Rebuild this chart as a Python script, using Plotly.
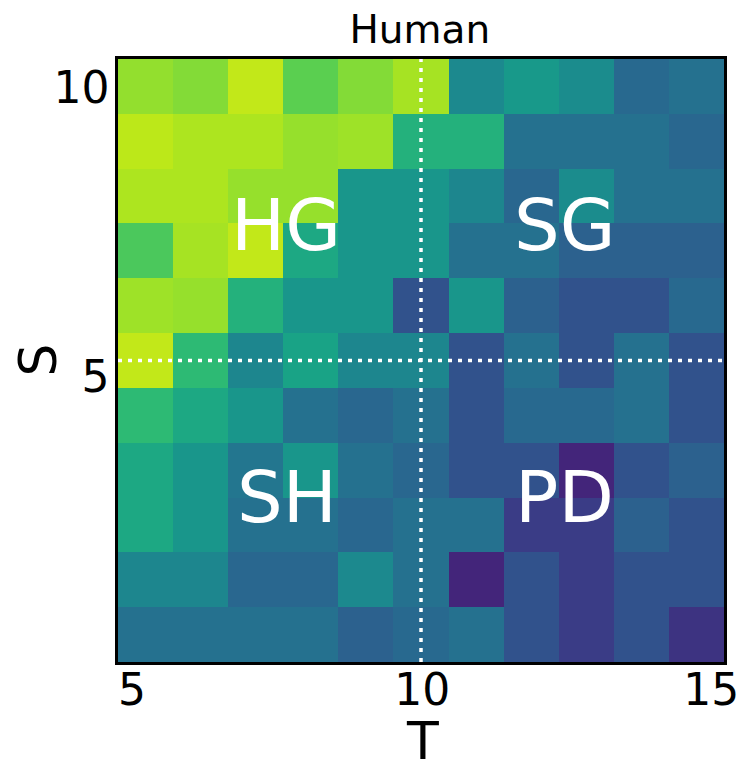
import colorsys
import plotly.graph_objects as go
import plotly.colors as pc

# T (x) from 5 to 15, S (y) from 0 to 10, 11 x 11 cells
T_MIN, T_MAX = 5, 15
S_MIN, S_MAX = 0, 10
N = 11

# rows listed from top (S=10) to bottom (S=0), columns T=5..15
rows_top_down = [
    [0.84, 0.82, 0.905, 0.76, 0.82, 0.865, 0.47, 0.53, 0.48, 0.35, 0.38],
    [0.895, 0.875, 0.875, 0.845, 0.855, 0.63, 0.63, 0.38, 0.38, 0.38, 0.34],
    [0.875, 0.875, 0.845, 0.845, 0.52, 0.52, 0.46, 0.34, 0.48, 0.38, 0.38],
    [0.73, 0.865, 0.905, 0.59, 0.52, 0.52, 0.38, 0.38, 0.32, 0.32, 0.32],
    [0.855, 0.845, 0.63, 0.52, 0.52, 0.27, 0.52, 0.32, 0.27, 0.27, 0.35],
    [0.905, 0.67, 0.46, 0.57, 0.46, 0.46, 0.27, 0.38, 0.27, 0.38, 0.27],
    [0.67, 0.59, 0.52, 0.38, 0.34, 0.38, 0.27, 0.35, 0.35, 0.38, 0.27],
    [0.59, 0.52, 0.40, 0.52, 0.38, 0.34, 0.27, 0.27, 0.12, 0.27, 0.32],
    [0.59, 0.52, 0.38, 0.38, 0.34, 0.38, 0.38, 0.20, 0.20, 0.32, 0.27],
    [0.46, 0.46, 0.34, 0.34, 0.47, 0.38, 0.12, 0.27, 0.20, 0.27, 0.27],
    [0.38, 0.38, 0.38, 0.38, 0.32, 0.35, 0.38, 0.27, 0.20, 0.27, 0.17],
]

x_tick_vals = [5.23, 10.02, 14.79]
x_tick_text = ["5", "10", "15"]
y_tick_vals = [9.53, 4.74]
y_tick_text = ["10", "5"]

region_labels = ["HG", "SG", "SH", "PD"]
region_x = [7.78, 12.37, 7.79, 12.37]
region_y = [7.25, 7.25, 2.74, 2.74]

T_LINE = 10
S_LINE = 5

dx = (T_MAX - T_MIN) / N
dy = (S_MAX - S_MIN) / N
z = rows_top_down[::-1]

FONT = "DejaVu Sans"


def vivid(scale, sat=1.12, light=0.97):
    out = []
    for i, c in enumerate(scale):
        r, g, b = pc.hex_to_rgb(c)
        h, l, s = colorsys.rgb_to_hls(r / 255, g / 255, b / 255)
        r2, g2, b2 = colorsys.hls_to_rgb(h, l * light, min(1.0, s * sat))
        out.append([i / (len(scale) - 1),
                    f"rgb({int(r2 * 255)},{int(g2 * 255)},{int(b2 * 255)})"])
    return out


colorscale = vivid(pc.sequential.Viridis)

fig = go.Figure()
fig.add_trace(go.Heatmap(
    z=z, x0=T_MIN + dx / 2, dx=dx, y0=S_MIN + dy / 2, dy=dy,
    colorscale=colorscale, zmin=0, zmax=1, showscale=False,
    hoverinfo="skip",
))

fig.add_shape(type="line", x0=T_LINE, x1=T_LINE, y0=S_MIN, y1=S_MAX,
              xref="x", yref="y", line=dict(color="white", width=3.5, dash="4px,6px"))
fig.add_shape(type="line", x0=T_MIN, x1=T_MAX, y0=S_LINE, y1=S_LINE,
              xref="x", yref="y", line=dict(color="white", width=3.5, dash="4px,6px"))

for lab, xx, yy in zip(region_labels, region_x, region_y):
    fig.add_annotation(x=xx, y=yy, xref="x", yref="y", text=lab, showarrow=False,
                       font=dict(family=FONT, size=72, color="white"))

# axis titles
fig.add_annotation(x=10.02, xref="x", y=0, yref="paper", yshift=-79, text="T",
                   showarrow=False, yanchor="middle",
                   font=dict(family=FONT, size=52, color="black"))
fig.add_annotation(x=0, xref="paper", xshift=-81, y=5, yref="y", text="S",
                   showarrow=False, textangle=-90, xanchor="center",
                   font=dict(family=FONT, size=52, color="black"))

fig.update_layout(
    width=741, height=763,
    margin=dict(l=118, r=17, t=59, b=101),
    paper_bgcolor="white", plot_bgcolor="white",
    font=dict(family=FONT, color="black"),
    title=dict(text="Human", x=0.5666, xanchor="center", y=1 - 29 / 763, yanchor="middle",
               font=dict(family=FONT, size=39, color="black")),
    xaxis=dict(range=[T_MIN, T_MAX], tickvals=x_tick_vals, ticktext=x_tick_text,
               ticks="", showgrid=False, zeroline=False, automargin=False,
               ticklabelstandoff=-13,
               showline=True, mirror=True, linecolor="black", linewidth=2.5,
               tickfont=dict(family=FONT, size=44, color="black")),
    yaxis=dict(range=[S_MIN, S_MAX], tickvals=y_tick_vals, ticktext=y_tick_text,
               ticks="", showgrid=False, zeroline=False, automargin=False,
               ticklabelstandoff=-3,
               showline=True, mirror=True, linecolor="black", linewidth=2.5,
               tickfont=dict(family=FONT, size=44, color="black")),
)

fig.write_html("out.html")
